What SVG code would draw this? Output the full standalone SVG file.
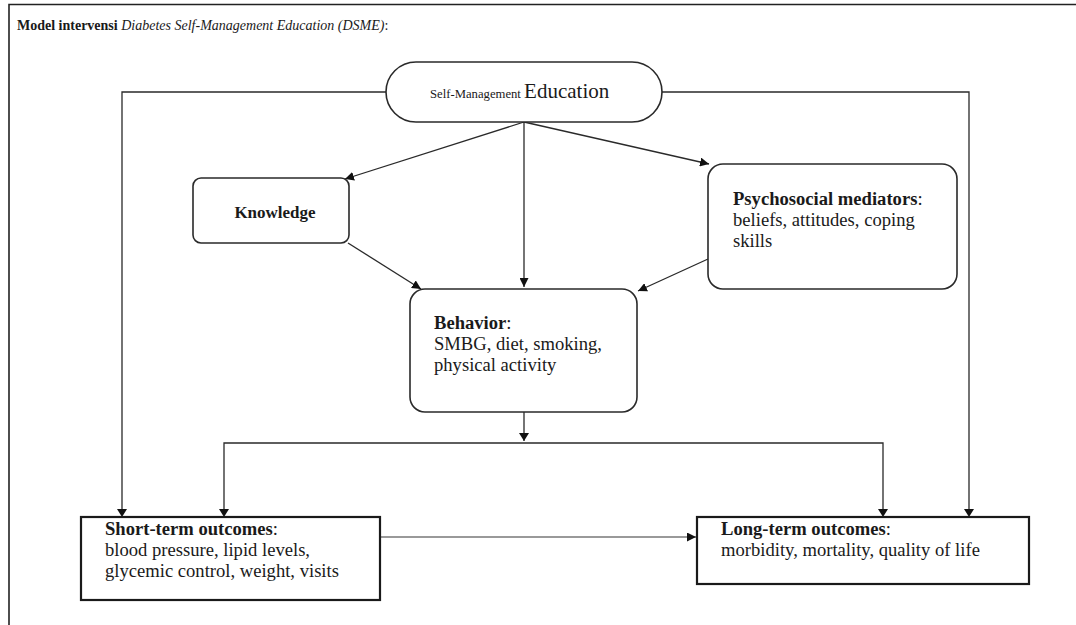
<svg xmlns="http://www.w3.org/2000/svg" width="1076" height="625" viewBox="0 0 1076 625">
<style>
text{font-family:"Liberation Serif","Times New Roman",serif;fill:#1a1a1a}
.t{font-size:18.6px}
.b{font-weight:bold}
.node{fill:#fff;stroke:#2a2a2a;stroke-width:1.6}
.box{fill:#fff;stroke:#1a1a1a;stroke-width:2.2}
.c{fill:none;stroke:#2a2a2a;stroke-width:1.3}
.g{fill:none;stroke:#777;stroke-width:1.6}
</style>
<defs>
<marker id="ah" viewBox="0 0 10 10" refX="10" refY="5" markerWidth="9" markerHeight="9" markerUnits="userSpaceOnUse" orient="auto">
<path d="M0,0 L10,5 L0,10 z" fill="#111"/>
</marker>
</defs>
<rect width="1076" height="625" fill="#fff"/>
<g id="frame">
<path d="M9,625 V4.5 H1076" fill="none" stroke="#222" stroke-width="1.6"/>
<text x="17" y="30" font-size="14"><tspan class="b">Model intervensi </tspan><tspan font-style="italic">Diabetes Self-Management Education (DSME)</tspan><tspan>:</tspan></text>
</g>
<g id="connectors">
<path class="c" d="M386,92 H122 V509"/>
<path class="c" d="M662,92 H969 V509"/>
<path class="c" d="M524,122 L345,179" marker-end="url(#ah)"/>
<path class="c" d="M524,122 V287" marker-end="url(#ah)"/>
<path class="c" d="M524,122 L709,164" marker-end="url(#ah)"/>
<path class="c" d="M348,243 L421,289" marker-end="url(#ah)"/>
<path class="c" d="M708,259 L638,291" marker-end="url(#ah)"/>
<path class="c" d="M524,412 V441"/>
<path d="M519,433 L529,433 L524,441 z" fill="#111"/>
<path class="c" d="M224,509 V443 H883 V509"/>
<path d="M219,509 L229,509 L224,517 z" fill="#111"/>
<path d="M878,509 L888,509 L883,517 z" fill="#111"/>
<path d="M117,509 L127,509 L122,517 z" fill="#111"/>
<path d="M964,509 L974,509 L969,517 z" fill="#111"/>
<path class="g" d="M381,537 H696" marker-end="url(#ah)"/>
</g>
<g id="sme">
<rect class="node" x="386" y="62" width="276" height="60" rx="30" ry="30"/>
<text x="430" y="98"><tspan font-size="12.7">Self-Management </tspan><tspan font-size="21">Education</tspan></text>
</g>
<g id="knowledge">
<rect class="node" x="193" y="178" width="156" height="65" rx="8"/>
<text class="b" x="275" y="218" text-anchor="middle" font-size="17">Knowledge</text>
</g>
<g id="psychosocial">
<rect class="node" x="708" y="164" width="249" height="125" rx="15"/>
<text class="t" x="733" y="205"><tspan class="b">Psychosocial mediators</tspan>:</text>
<text class="t" x="733" y="226">beliefs, attitudes, coping</text>
<text class="t" x="733" y="247">skills</text>
</g>
<g id="behavior">
<rect class="node" x="410" y="289" width="227" height="123" rx="15"/>
<text class="t" x="434" y="329"><tspan class="b">Behavior</tspan>:</text>
<text class="t" x="434" y="350">SMBG, diet, smoking,</text>
<text class="t" x="434" y="371">physical activity</text>
</g>
<g id="shortterm">
<rect class="box" x="81" y="517" width="299" height="83"/>
<text class="t" x="105" y="535"><tspan class="b">Short-term outcomes</tspan>:</text>
<text class="t" x="105" y="556">blood pressure, lipid levels,</text>
<text class="t" x="105" y="577">glycemic control, weight, visits</text>
</g>
<g id="longterm">
<rect class="box" x="697" y="517" width="332" height="67"/>
<text class="t" x="721" y="535"><tspan class="b">Long-term outcomes</tspan>:</text>
<text class="t" x="721" y="556">morbidity, mortality, quality of life</text>
</g>
</svg>
